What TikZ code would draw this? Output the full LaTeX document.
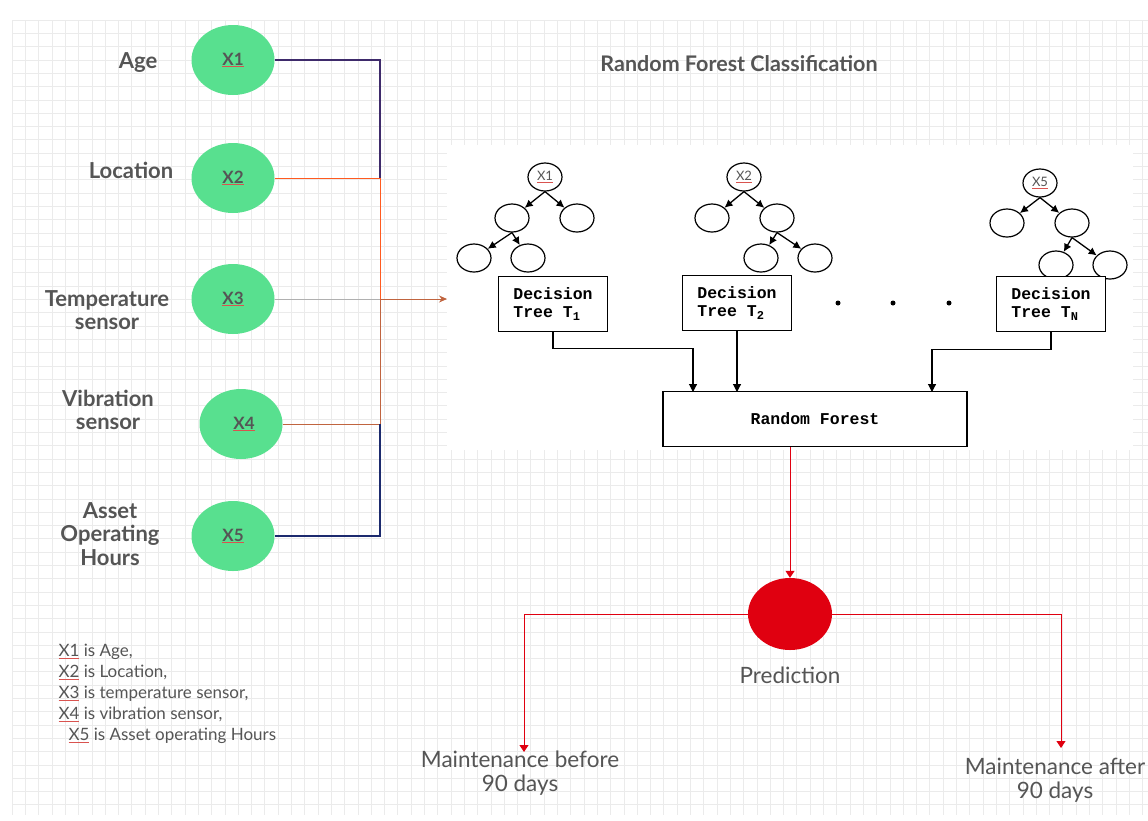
\documentclass[tikz,border=0pt]{standalone}
\usepackage{fontspec}
\setmainfont{Lato}
\newfontfamily\monof{Liberation Mono}
\usetikzlibrary{arrows.meta,shapes.geometric}
\definecolor{txt}{HTML}{555555}
\definecolor{grn}{HTML}{58E08F}
\definecolor{ulred}{HTML}{D9534F}
\definecolor{purp}{HTML}{3E2A6B}
\definecolor{orng}{HTML}{FF5A1F}
\definecolor{brn}{HTML}{C0643F}
\definecolor{navyc}{HTML}{1C2A6E}
\definecolor{gline}{HTML}{B0B0B0}
\definecolor{predred}{HTML}{E00010}
\definecolor{gridc}{HTML}{EBEBEB}
\newcommand\redul[1]{\textcolor{ulred}{\underline{\textcolor{txt}{#1}}}}
\newcommand\sub[1]{\raisebox{-3pt}{\fontsize{12}{12}\selectfont #1}}
\begin{document}
\begin{tikzpicture}[x=1pt,y=-1pt,
  inp/.style={ellipse,fill=grn,minimum width=83pt,minimum height=70pt,inner sep=0pt,font=\bfseries\fontsize{17}{17}\selectfont,text=txt},
  lbl/.style={align=center,font=\bfseries\fontsize{22}{23.5}\selectfont,text=txt},
  plain/.style={align=center,font=\fontsize{22.5}{24}\selectfont,text=txt},
  tnode/.style={ellipse,draw,line width=1.2pt,minimum width=34pt,minimum height=28pt,inner sep=0pt},
  troot/.style={tnode,font=\fontsize{13}{13}\selectfont,text=txt},
  tedge/.style={line width=1.3pt,-{Latex[length=8pt,width=8pt]}},
  dbox/.style={draw,line width=1.3pt,minimum width=109pt,minimum height=55pt,align=left,font=\monof\bfseries\fontsize{16.5}{18}\selectfont},
  barr/.style={line width=1.1pt,-{Triangle[length=8pt,width=8pt]}},
  rarr/.style={predred,line width=1pt,-{Triangle[length=7pt,width=9pt]}},
  tdot/.style={circle,fill,inner sep=0pt,minimum size=5pt}
]
\useasboundingbox (0,0) rectangle (1148,820);
\clip (0,0) rectangle (1148,820);
\fill[white] (0,0) rectangle (1148,820);
% grid
\foreach \i in {0,...,85} \draw[gridc,line width=0.6pt] ({12+13.3*\i},20) -- ({12+13.3*\i},815);
\foreach \j in {0,...,59} \draw[gridc,line width=0.6pt] (12,{20+13.3*\j}) -- (1148,{20+13.3*\j});
% white panel
\fill[white] (447,145) rectangle (1133,450);

% inputs
\node[inp] (x1) at (233,60) {\redul{X1}};
\node[inp] (x2) at (233,178) {\redul{X2}};
\node[inp] (x3) at (233,299) {\redul{X3}};
\node[inp] (x4) at (241,424) {\hspace*{6pt}\redul{X4}};
\node[inp] (x5) at (233,536) {\redul{X5}};

\node[lbl] (l1) at (138,63) {Age};
\node[lbl] (l2) at (131,170) {Location};
\node[lbl] (l3) at (107,310) {Temperature\\sensor};
\node[lbl] (l4) at (108,410) {Vibration\\sensor};
\node[lbl] (l5) at (110,534) {Asset\\Operating\\Hours};

% bus
\coordinate (b1) at (380,60);
\coordinate (b2) at (380,178);
\coordinate (b3) at (380,299);
\coordinate (b4) at (380,424);
\coordinate (b5) at (380,536);
\coordinate (pin) at (447,299);
\draw[purp,line width=1.2pt] (x1.east) -- (b1) -- (b2);
\draw[purp,line width=2.2pt] (x1.east) -- ++(40,0);
\draw[orng,line width=1pt] (x2.east) -- (b2) -- (b3);
\draw[gline,line width=1pt] (x3.east) -- (b3);
\draw[brn,line width=1pt,-{Stealth[length=8pt,width=7pt]}] (b3) -- (pin);
\draw[brn,line width=1pt] (b3) -- (b4);
\draw[brn,line width=1pt] (x4.east) -- (b4);
\draw[navyc,line width=1.2pt] (b4) -- (b5) -- (x5.east);

% title
\node[font=\bfseries\fontsize{21.5}{22}\selectfont,text=txt] (title) at (739,64) {Random Forest Classification};

% tree 1
\node[troot] (r1) at (545,177) {\redul{X1}};
\node[tnode] (a1) at (512,218) {};
\node[tnode] (a2) at (577,218) {};
\node[tnode] (a3) at (474,258) {};
\node[tnode] (a4) at (528,258) {};
\draw[tedge] (r1.south) -- (a1);
\draw[tedge] (r1.south) -- (a2);
\draw[tedge] (a1.south) -- (a3);
\draw[tedge] (a1.south) -- (a4);
% tree 2
\node[troot] (r2) at (744,177) {\redul{X2}};
\node[tnode] (c1) at (712,218) {};
\node[tnode] (c2) at (777,218) {};
\node[tnode] (c3) at (761,258) {};
\node[tnode] (c4) at (815,258) {};
\draw[tedge] (r2.south) -- (c1);
\draw[tedge] (r2.south) -- (c2);
\draw[tedge] (c2.south) -- (c3);
\draw[tedge] (c2.south) -- (c4);
% tree N
\node[troot] (r3) at (1040,183) {\redul{X5}};
\node[tnode] (e1) at (1007,223) {};
\node[tnode] (e2) at (1072,223) {};
\node[tnode] (e3) at (1056,265) {};
\node[tnode] (e4) at (1110,265) {};
\draw[tedge] (r3.south) -- (e1);
\draw[tedge] (r3.south) -- (e2);
\draw[tedge] (e2.south) -- (e3);
\draw[tedge] (e2.south) -- (e4);

% decision boxes
\node[dbox,fill=white] (t1) at (553,304) {Decision\\Tree T\sub{1}};
\node[dbox,fill=white] (t2) at (737,303) {Decision\\Tree T\sub{2}};
\node[dbox,fill=white] (tn) at (1051,304) {Decision\\Tree T\sub{\bfseries N}};
\node[tdot] (d1) at (838,303) {};
\node[tdot] (d2) at (893,303) {};
\node[tdot] (d3) at (949,303) {};

% random forest
\node[draw,line width=1.3pt,minimum width=304pt,minimum height=55pt,font=\monof\bfseries\fontsize{16.5}{18}\selectfont] (rf) at (815,419) {Random Forest};
\coordinate (rin1) at (693,392);
\coordinate (rin2) at (737,392);
\coordinate (rin3) at (932,392);
\draw[barr] (t1.south) -- ++(0,16) -| (rin1);
\draw[barr] (t2.south) -- (rin2);
\draw[barr] (tn.south) -- ++(0,17) -| (rin3);

% prediction
\node[ellipse,fill=predred,minimum width=84pt,minimum height=72pt,inner sep=0pt] (pr) at (790,614) {};
\draw[rarr] (pr.north |- rf.south) -- (pr.north);
\coordinate (mb) at (524,752);
\coordinate (ma) at (1061,748);
\draw[rarr] (pr.west) -| (mb);
\draw[rarr] (pr.east) -| (ma);
\node[plain] (prl) at (790,675) {Prediction};
\node[plain] (mbl) at (520,773) {Maintenance before\\90 days};
\node[plain] (mal) at (1055,780) {Maintenance after\\90 days};

% legend
\node[anchor=north west,align=left,font=\fontsize{17}{21}\selectfont,text=txt] (leg) at (55,641)
 {\redul{X1} is Age,\\\redul{X2} is Location,\\\redul{X3} is temperature sensor,\\\redul{X4} is vibration sensor,\\\hspace*{10pt}\redul{X5} is Asset operating Hours};
\end{tikzpicture}
\end{document}
